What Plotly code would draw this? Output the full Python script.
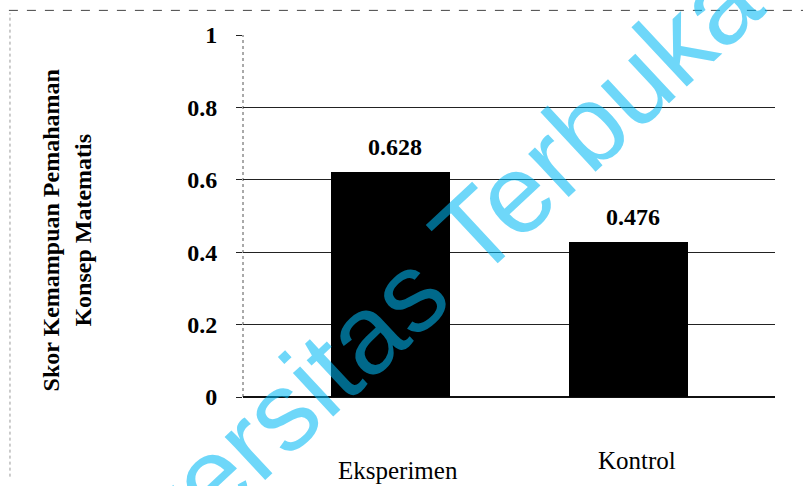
import plotly.graph_objects as go

categories = ["Eksperimen", "Kontrol"]
bar_heights = [0.621, 0.428]          # heights as drawn in the picture
printed_labels = ["0.628", "0.476"]   # value labels printed above the bars
y_ticks = [0, 0.2, 0.4, 0.6, 0.8, 1]
y_title = "Skor Kemampuan Pemahaman<br>Konsep Matematis"
watermark = "Universitas Terbuka"

serif = "Liberation Serif"

fig = go.Figure()
fig.add_trace(go.Bar(
    x=categories, y=bar_heights, width=0.5,
    marker=dict(color="#000000", line=dict(width=0)),
    showlegend=False, hoverinfo="skip",
))

annotations = []
for c, v, t in zip(categories, bar_heights, printed_labels):
    annotations.append(dict(x=c, y=v, xref="x", yref="y", text=f"<b>{t}</b>",
                            showarrow=False, yanchor="bottom", xanchor="center",
                            xshift=5, yshift=10,
                            font=dict(family=serif, size=24, color="#000")))
# category labels
cat_y = [-0.202, -0.175]
cat_shift = [8, 9]
for c, yy, xs in zip(categories, cat_y, cat_shift):
    annotations.append(dict(x=c, y=yy, xref="x", yref="paper", text=c,
                            showarrow=False, xanchor="center", yanchor="middle",
                            xshift=xs,
                            font=dict(family=serif, size=25, color="#000")))
# y axis title
annotations.append(dict(x=-0.331, y=0.46, xref="paper", yref="paper",
                        text=f"<b>{y_title}</b>", textangle=-90, showarrow=False,
                        xanchor="center", yanchor="middle",
                        font=dict(family=serif, size=24, color="#000")))
# watermark
annotations.append(dict(x=0.263, y=0.219, xref="paper", yref="paper",
                        text=watermark, textangle=-43, showarrow=False,
                        xanchor="center", yanchor="middle",
                        font=dict(family="Liberation Sans",
                                  size=112, color="rgba(0,184,245,0.57)")))

shapes = [
    # dotted left axis line
    dict(type="line", xref="paper", yref="paper", x0=0, x1=0, y0=0, y1=1,
         line=dict(color="#555", width=1, dash="dot"), layer="below"),
    # scanned page border top and left
    dict(type="line", xref="paper", yref="paper", x0=-0.44, x1=1.06,
         y0=1.068, y1=1.068, line=dict(color="#444", width=1, dash="dash")),
    dict(type="line", xref="paper", yref="paper", x0=-0.438, x1=-0.438,
         y0=-0.22, y1=1.06, line=dict(color="#999", width=1, dash="dot")),
]

fig.update_layout(
    width=803, height=486,
    margin=dict(l=243, r=28, t=35, b=89),
    paper_bgcolor="white", plot_bgcolor="white",
    bargap=0,
    annotations=annotations, shapes=shapes,
    font=dict(family=serif, color="#000"),
)
fig.update_xaxes(range=[-0.618, 1.617], showticklabels=False, showgrid=False,
                 zeroline=False, showline=False, ticks="")
fig.update_yaxes(range=[0, 1], tickvals=y_ticks, ticks="outside", ticklen=6,
                 tickcolor="#222", gridcolor="#222", gridwidth=1,
                 zeroline=True, zerolinecolor="#111", zerolinewidth=1.5,
                 showline=False, ticklabelstandoff=14,
                 tickfont=dict(family=serif, size=24, color="#000", weight="bold"))

fig.write_html("out.html", config={"displayModeBar": False},
               post_script="document.body.style.margin='0';")
